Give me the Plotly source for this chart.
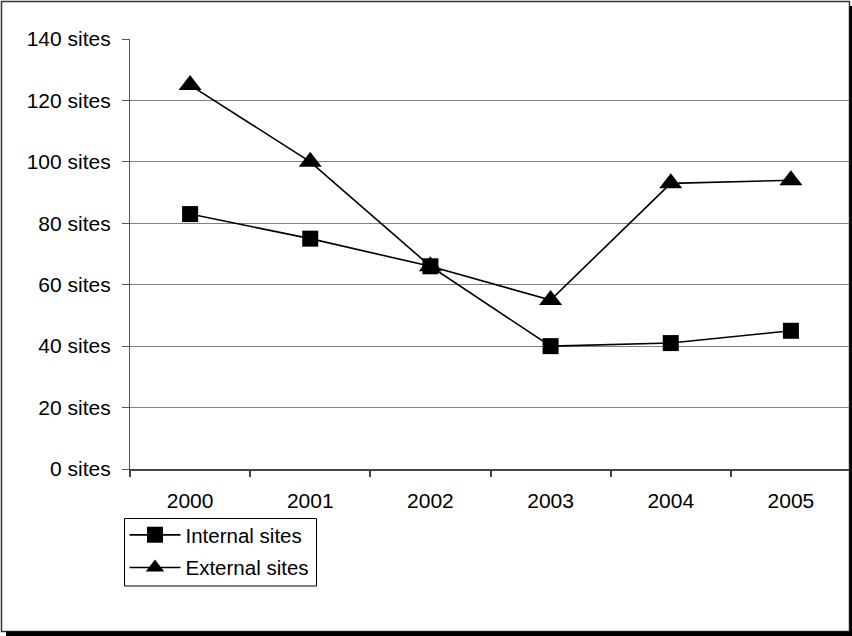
import plotly.graph_objects as go

years = ["2000", "2001", "2002", "2003", "2004", "2005"]
internal_sites = [83, 75, 66, 40, 41, 45]
external_sites = [125, 100, 66, 55, 93, 94]
y_tick_values = [0, 20, 40, 60, 80, 100, 120, 140]
y_tick_labels = [f"{v} sites" for v in y_tick_values]

W, H = 852, 636
L, R, T, B = 130, 1, 39, 167
PW, PH = W - L - R, H - T - B


def px(x):
    return (x - L) / PW


def py(y):
    return (H - B - y) / PH


FONT = "Liberation Sans, Arial, Helvetica, sans-serif"

fig = go.Figure()
fig.add_trace(go.Scatter(
    x=years, y=internal_sites, name="Internal sites", mode="lines+markers",
    legendgroup="a",
    line=dict(color="black", width=1.6),
    marker=dict(symbol="square", size=16, color="black"),
))
fig.add_trace(go.Scatter(
    x=years, y=external_sites, name="External sites", mode="lines+markers",
    legendgroup="b",
    line=dict(color="black", width=1.6),
    marker=dict(symbol="triangle-up", size=20, color="black"),
))

shapes = [
    # outer frame
    dict(type="rect", xref="paper", yref="paper", x0=px(1.5), x1=px(849.5), y0=py(1.5), y1=py(631.5),
         line=dict(color="#333333", width=1.5), fillcolor="rgba(0,0,0,0)", layer="below"),
    # shadow right
    dict(type="rect", xref="paper", yref="paper", x0=px(849.5), x1=px(853), y0=py(6), y1=py(637),
         line=dict(width=0), fillcolor="black"),
    # shadow bottom
    dict(type="rect", xref="paper", yref="paper", x0=px(6), x1=px(853), y0=py(631.5), y1=py(637),
         line=dict(width=0), fillcolor="black"),
    # legend box
    dict(type="rect", xref="paper", yref="paper", x0=px(124.5), x1=px(316.5), y0=py(518.5), y1=py(586),
         line=dict(color="black", width=1), fillcolor="white", layer="below"),
]

fig.update_layout(
    width=W, height=H,
    margin=dict(l=L, r=R, t=T, b=B, pad=0),
    paper_bgcolor="white", plot_bgcolor="white",
    font=dict(family=FONT, size=21, color="black"),
    showlegend=True,
    legend=dict(
        x=px(124.5), y=py(515), xanchor="left", yanchor="top",
        bgcolor="rgba(0,0,0,0)", borderwidth=0,
        font=dict(family=FONT, size=20.5, color="black"),
        itemwidth=51, tracegroupgap=3,
    ),
    shapes=shapes,
    xaxis=dict(
        type="category", tickson="boundaries", ticks="outside", ticklen=6,
        range=[-0.5, 5.5],
        tickcolor="#444444", tickwidth=1.5,
        showline=True, linecolor="#444444", linewidth=1.5,
        showgrid=False, zeroline=False, fixedrange=True,
        tickfont=dict(family=FONT, size=21, color="black"),
        ticklabelstandoff=12,
    ),
    yaxis=dict(
        range=[0, 140], tickvals=y_tick_values, ticktext=y_tick_labels,
        ticks="outside", ticklen=7, tickcolor="#555555", tickwidth=1.2,
        showline=True, linecolor="#555555", linewidth=1.2,
        showgrid=True, gridcolor="#808080", gridwidth=1.2,
        zeroline=False, fixedrange=True,
        tickfont=dict(family=FONT, size=21, color="black"),
        ticklabelstandoff=7,
    ),
)

fig.write_html(
    "out.html",
    config={"displayModeBar": False, "staticPlot": False},
    post_script="document.body.style.margin='0';document.body.style.overflow='hidden';",
)
